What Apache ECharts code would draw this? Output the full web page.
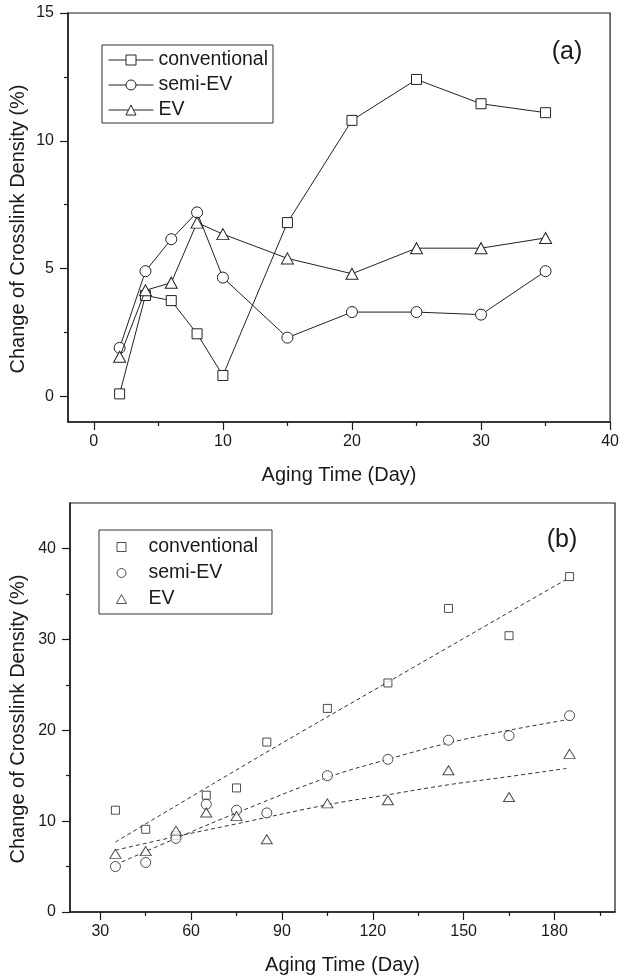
<!DOCTYPE html>
<html lang="en">
<head>
<meta charset="UTF-8">
<title>Change of Crosslink Density vs Aging Time</title>
<script src="https://cdn.jsdelivr.net/npm/echarts/dist/echarts.min.js"></script>
<style>
    html, body { margin: 0; padding: 0; background: #fff; }
    #chart { width: 622px; height: 979px; }
</style>
</head>
<body>
<div id="chart"></div>

<script>
    // (a) short aging times
    const daysA = [2, 4, 6, 8, 10, 15, 20, 25, 30, 35];
    const convA = [0.1, 3.95, 3.75, 2.45, 0.82, 6.8, 10.8, 12.4, 11.45, 11.1];
    const semiA = [1.9, 4.9, 6.15, 7.2, 4.65, 2.3, 3.3, 3.3, 3.2, 4.9];
    const evA   = [1.55, 4.15, 4.45, 6.8, 6.35, 5.4, 4.8, 5.8, 5.8, 6.2];

    // (b) long aging times
    const daysB = [35, 45, 55, 65, 75, 85, 105, 125, 145, 165, 185];
    const convB = [11.2, 9.1, 8.4, 12.85, 13.65, 18.7, 22.4, 25.2, 33.4, 30.4, 36.9];
    const semiB = [5.0, 5.45, 8.1, 11.85, 11.2, 10.9, 15.0, 16.8, 18.9, 19.4, 21.6];
    const evB   = [6.4, 6.7, 8.95, 10.95, 10.55, 8.0, 11.95, 12.3, 15.6, 12.65, 17.4];

    // dashed fit lines in (b)
    const fitConvX = [35, 85, 125, 185];
    const fitConvY = [7.7, 17.6, 25.3, 36.8];
    const fitSemiX = [35, 55, 75, 105, 125, 145, 165, 185];
    const fitSemiY = [5.2, 8.1, 10.9, 14.8, 16.8, 18.6, 20.0, 21.2];
    const fitEvX   = [35, 55, 75, 105, 125, 145, 165, 184];
    const fitEvY   = [6.8, 8.3, 9.7, 11.8, 12.9, 14.0, 14.9, 15.8];

    // tick labels
    const xTicksA = [0, 10, 20, 30, 40];
    const xMinorA = [5, 15, 25, 35];
    const yTicksA = [0, 5, 10, 15];
    const yMinorA = [2.5, 7.5, 12.5];
    const xTicksB = [30, 60, 90, 120, 150, 180];
    const xMinorB = [45, 75, 105, 135, 165, 195];
    const yTicksB = [0, 10, 20, 30, 40];
    const yMinorB = [5, 15, 25, 35];

    const names = ['conventional', 'semi-EV', 'EV'];

    const FONT = '"Liberation Sans", Arial, sans-serif';
    const INK = '#1a1a1a';

    function pairs(xs, ys) {
        return xs.map((x, i) => [x, ys[i]]);
    }

    // main axis with labels, or a bare one just for the short minor ticks
    function axis(dim, grid, min, max, ticks, minor, pos) {
        const a = {
            type: 'value', gridIndex: grid, position: pos, min: min, max: max,
            splitLine: { show: false },
            axisLine: { show: !minor, onZero: false, lineStyle: { color: INK, width: 1.5 } },
            axisTick: { show: true, inside: false, customValues: ticks, length: minor ? 4 : 8,
                        lineStyle: { color: INK, width: 1.2 } },
            axisLabel: { show: !minor, customValues: ticks, fontSize: 16, color: INK,
                         fontFamily: FONT, margin: dim === 'x' ? 12 : 14 }
        };
        if (dim === 'x' && !minor) {
            a.name = 'Aging Time (Day)';
            a.nameLocation = 'middle';
            a.nameGap = 43;
            a.nameTextStyle = { fontSize: 20, color: INK, fontFamily: FONT };
        }
        return a;
    }

    const marker = { color: '#fff', borderColor: '#222', borderWidth: 1 };
    const symbols = ['rect', 'circle', 'triangle'];
    const sizesA = [10, 11, [12, 11]];
    const sizesB = [8, 10, [11, 9]];
    const iconsB = [
        'path://M0 0H10V10H0Z',
        'path://M5 0A5 5 0 1 1 5 10A5 5 0 1 1 5 0Z',
        'path://M5 0L10 9H0Z'
    ];

    const seriesA = [convA, semiA, evA].map((ys, i) => ({
        name: names[i], type: 'line', xAxisIndex: 0, yAxisIndex: 0,
        data: pairs(daysA, ys),
        symbol: symbols[i], symbolSize: sizesA[i], showAllSymbol: true,
        itemStyle: marker,
        lineStyle: { color: '#222', width: 1 },
        z: 3 + i
    }));

    const fitLines = [[fitConvX, fitConvY], [fitSemiX, fitSemiY], [fitEvX, fitEvY]].map((f, i) => ({
        name: 'fit ' + names[i], type: 'line', xAxisIndex: 2, yAxisIndex: 2,
        data: pairs(f[0], f[1]),
        symbol: 'none', smooth: 0.4,
        lineStyle: { color: '#333', width: 1, type: [4, 3] },
        z: 2
    }));

    const seriesB = [convB, semiB, evB].map((ys, i) => ({
        name: 'b:' + names[i], type: 'scatter', xAxisIndex: 2, yAxisIndex: 2,
        data: pairs(daysB, ys),
        symbol: symbols[i], symbolSize: sizesB[i],
        itemStyle: marker,
        z: 5
    }));

    const legendText = { fontSize: 19.5, lineHeight: 19, color: INK, fontFamily: FONT };

    const chart = echarts.init(document.getElementById('chart'));
    const option = {
        animation: false,
        backgroundColor: '#fff',
        textStyle: { fontFamily: FONT },
        grid: [
            { left: 68, top: 13, width: 544, height: 409, show: true, borderColor: INK, borderWidth: 1.2 },
            { left: 70, top: 503, width: 545, height: 409, show: true, borderColor: INK, borderWidth: 1.2 }
        ],
        xAxis: [
            axis('x', 0, -2, 40, xTicksA, false, 'bottom'),
            axis('x', 0, -2, 40, xMinorA, true, 'bottom'),
            axis('x', 1, 20, 200, xTicksB, false, 'bottom'),
            axis('x', 1, 20, 200, xMinorB, true, 'bottom')
        ],
        yAxis: [
            axis('y', 0, -1, 15, yTicksA, false, 'left'),
            axis('y', 0, -1, 15, yMinorA, true, 'left'),
            axis('y', 1, 0, 45, yTicksB, false, 'left'),
            axis('y', 1, 0, 45, yMinorB, true, 'left')
        ],
        legend: [
            {
                data: names, orient: 'vertical', left: 102, top: 45,
                padding: [5, 5, 3, 6], itemWidth: 45, itemHeight: 12.5, itemGap: 5,
                borderColor: '#333', borderWidth: 1, selectedMode: false,
                itemStyle: { borderWidth: 1 },
                lineStyle: { width: 1 },
                textStyle: legendText
            },
            {
                data: names.map((n, i) => ({ name: 'b:' + n, icon: iconsB[i] })),
                formatter: n => n.slice(2),
                orient: 'vertical', left: 99, top: 530,
                padding: [7, 14, 5, 17], itemWidth: 44, itemHeight: 9, itemGap: 6,
                borderColor: '#333', borderWidth: 1, selectedMode: false,
                itemStyle: { borderWidth: 1 },
                textStyle: legendText
            }
        ],
        graphic: [
            { type: 'text', x: 567, y: 52, style: { text: '(a)', fontSize: 25, fontFamily: FONT, fill: INK, align: 'center', verticalAlign: 'middle' } },
            { type: 'text', x: 562, y: 540, style: { text: '(b)', fontSize: 25, fontFamily: FONT, fill: INK, align: 'center', verticalAlign: 'middle' } },
            { type: 'text', x: 18, y: 229, rotation: Math.PI / 2, style: { text: 'Change of Crosslink Density (%)', fontSize: 20, fontFamily: FONT, fill: INK, align: 'center', verticalAlign: 'middle' } },
            { type: 'text', x: 18, y: 719, rotation: Math.PI / 2, style: { text: 'Change of Crosslink Density (%)', fontSize: 20, fontFamily: FONT, fill: INK, align: 'center', verticalAlign: 'middle' } }
        ],
        series: seriesA.concat(fitLines, seriesB)
    };
    chart.setOption(option);
</script>
</body>
</html>
